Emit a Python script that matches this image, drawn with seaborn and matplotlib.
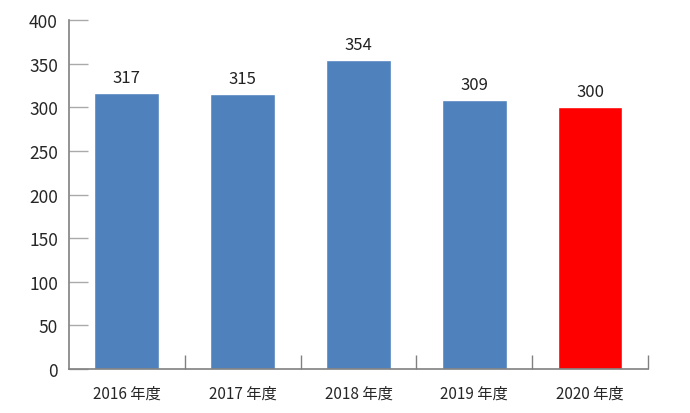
import numpy as np
import seaborn as sns
import pandas as pd
import matplotlib.pyplot as plt

years = ["2016 年度", "2017 年度", "2018 年度", "2019 年度", "2020 年度"]
values = [317, 315, 354, 309, 300]
colors = ["#4F81BD", "#4F81BD", "#4F81BD", "#4F81BD", "#FF0000"]

df = pd.DataFrame({"year": years, "value": values})

sns.set_style("white")
plt.rcParams["font.family"] = ["Noto Sans CJK JP", "DejaVu Sans"]

fig = plt.figure(figsize=(6.9, 4.14), dpi=100)
ax = fig.add_axes([0.1, 0.106, 0.839, 0.843])

sns.barplot(data=df, x="year", y="value", hue="year", palette=colors,
            legend=False, width=0.56, saturation=1, ax=ax)

for i, v in enumerate(values):
    ax.text(i, v + 8, str(v), ha="center", va="bottom", fontsize=12, color="#222222")

ax.set_xlim(-0.5, len(years) - 0.5)
ax.set_ylim(0, 400)
ax.set_yticks(np.arange(0, 401, 50))
ax.set_xlabel("")
ax.set_ylabel("")

sns.despine(ax=ax)
for s in ["left", "bottom"]:
    ax.spines[s].set_color("#808080")
    ax.spines[s].set_linewidth(1.2)

ax.tick_params(axis="y", left=True, direction="in", length=14, width=1,
               color="#aaaaaa", labelsize=12.5, pad=8)
ax.tick_params(axis="x", which="major", bottom=False, labelsize=11, pad=8)
ax.set_xticks(np.arange(0.5, len(years)), minor=True)
ax.tick_params(axis="x", which="minor", bottom=True, direction="in", length=10,
               width=1, color="#808080")

fig.savefig("out.png", dpi=100)
